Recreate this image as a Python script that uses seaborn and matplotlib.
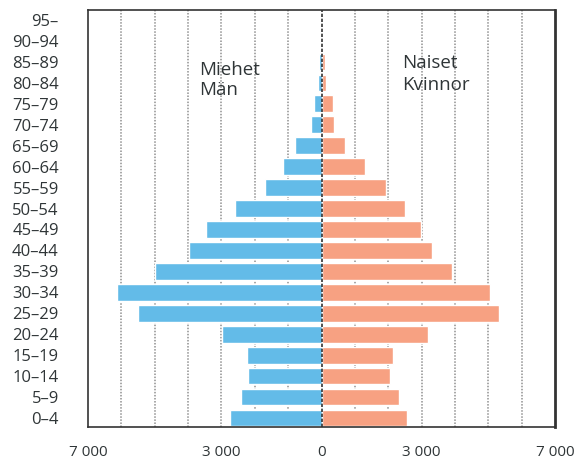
import numpy as np
import pandas as pd
import matplotlib
matplotlib.use("Agg")
import matplotlib.pyplot as plt
import seaborn as sns

# Age groups from oldest (top) to youngest (bottom)
ages = ["95–", "90–94", "85–89", "80–84", "75–79", "70–74", "65–69", "60–64",
        "55–59", "50–54", "45–49", "40–44", "35–39", "30–34", "25–29", "20–24",
        "15–19", "10–14", "5–9", "0–4"]
men = [5, 20, 60, 110, 230, 320, 800, 1160, 1700, 2600, 3450, 3960, 5000,
       6140, 5510, 2970, 2240, 2210, 2420, 2750]
women = [30, 50, 90, 120, 330, 360, 690, 1300, 1930, 2500, 2980, 3310, 3910,
         5050, 5320, 3190, 2140, 2050, 2320, 2560]

tick_vals = [-7000, -3000, 0, 3000, 7000]
tick_text = ["7 000", "3 000", "0", "3 000", "7 000"]

blue = "#63BBE8"
salmon = "#F7A182"
text_col = "#2f3537"

df = pd.concat([
    pd.DataFrame({"age": ages, "value": -np.array(men), "sex": "Miehet"}),
    pd.DataFrame({"age": ages, "value": np.array(women), "sex": "Naiset"}),
])

sns.set_style("white")
plt.rcParams["font.family"] = ["Open Sans", "DejaVu Sans"]

fig = plt.figure(figsize=(5.79, 4.62), dpi=100)
ax = fig.add_axes([88 / 579, 1 - 427 / 462, (555 - 88) / 579, (427 - 10) / 462])

sns.barplot(data=df, x="value", y="age", hue="sex", order=ages, dodge=False,
            palette={"Miehet": blue, "Naiset": salmon}, width=0.8,
            saturation=1, legend=False, ax=ax, zorder=2)

ax.set_xlim(-7000, 7000)
ax.set_ylim(19.43, -0.48)

# dotted grid every 1000
for v in range(-6000, 7000, 1000):
    if v == 0:
        continue
    ax.axvline(v, color="#909090", lw=1.1, ls=(0, (1, 1)), zorder=1)
ax.axvline(0, color="#333333", lw=1.2, ls=(0, (2, 1)), zorder=3)

ax.set_xticks(range(-7000, 7001, 1000))
ax.set_xticklabels([tick_text[tick_vals.index(v)] if v in tick_vals else ""
                    for v in range(-7000, 7001, 1000)])
ax.tick_params(axis="x", direction="out", length=9, width=1, color="#555555",
               labelsize=11, labelcolor=text_col, pad=4)
ax.tick_params(axis="y", direction="out", length=11, width=1.2, color="#666666",
               labelsize=12, labelcolor=text_col, pad=10)
ax.set_xlabel("")
ax.set_ylabel("")

for side in ["left", "bottom", "top"]:
    ax.spines[side].set_visible(True)
    ax.spines[side].set_color("#333333")
    ax.spines[side].set_linewidth(1.2)
ax.spines["right"].set_visible(True)
ax.spines["right"].set_color("#333333")
ax.spines["right"].set_linewidth(2)

lab_kw = dict(fontsize=13.5, color=text_col, ha="left", va="baseline")
ax.text(-3680, 2.62, "Miehet", **lab_kw)
ax.text(-3680, 3.58, "Män", **lab_kw)
ax.text(2410, 2.29, "Naiset", **lab_kw)
ax.text(2410, 3.34, "Kvinnor", **lab_kw)

fig.savefig("out.png", dpi=100)
